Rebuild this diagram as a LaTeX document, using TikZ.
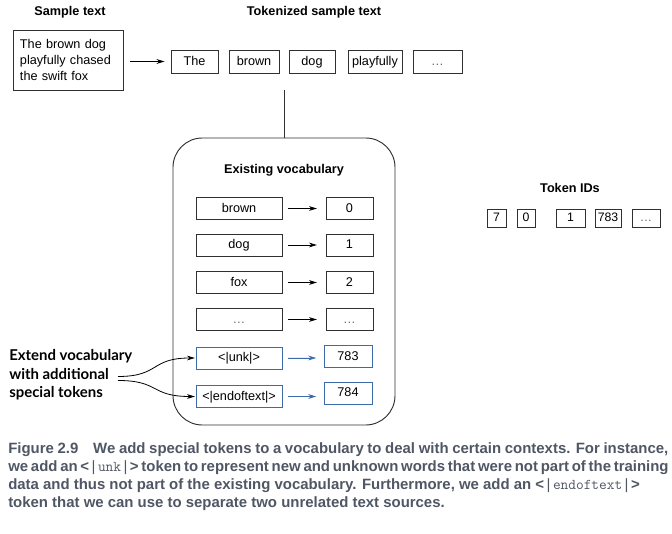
\documentclass[tikz,border=0pt]{standalone}
\usepackage{fontspec}
\setmainfont{Liberation Sans}
\newfontfamily\capfont{Liberation Sans}
\newfontfamily\notefont{Lato}
\usetikzlibrary{arrows.meta}
\definecolor{specblue}{HTML}{3D6BA8}
\definecolor{capgray}{HTML}{4F5664}
\definecolor{linegray}{HTML}{303030}
% thin bracket bars around special token names in the caption
\newcommand{\tokbar}{{\mdseries\,|\,}}

\begin{document}
\begin{tikzpicture}[x=0.75pt,y=-0.75pt,
  txt/.style={font=\fontsize{9.5}{12}\selectfont},
  head/.style={font=\bfseries\fontsize{9.5}{12}\selectfont, inner sep=0pt},
  box/.style={txt, draw=linegray, line width=0.7pt, inner sep=0pt,
    text height=7.3pt, text depth=1.3pt},
  tokbox/.style={box, minimum height=17.25pt},
  vbox/.style={box, minimum height=16.5pt},
  idbox/.style={box, minimum height=13.5pt, font=\fontsize{9.2}{11}\selectfont},
  spec/.style={vbox, draw=specblue},
  arr/.style={-{Stealth[length=6pt,width=3.6pt]}, line width=0.6pt, draw=black},
  specarr/.style={arr, draw=specblue, fill=specblue},
  capline/.style={anchor=base west, inner sep=0pt, text=capgray,
    font=\capfont\bfseries\fontsize{11.2}{13}\selectfont}]

\useasboundingbox (0,0) rectangle (672,534);

% headings
\node[head] (hsample) at (70,12) {Sample text};
\node[head] (htok) at (314,12) {Tokenized sample text};

% sample sentence
\node[draw=linegray, line width=0.7pt, txt, minimum width=82.5pt, minimum height=45pt,
      text width=72pt, inner xsep=5.25pt, align=left, anchor=center] (sample) at (68,60)
  {The brown dog\\playfully chased\\the swift fox};

% tokens
\node[tokbox, minimum width=35.25pt] (tThe) at (194.5,61.5) {The};
\node[tokbox, minimum width=37.5pt]  (tbrown) at (254,61.5) {brown};
\node[tokbox, minimum width=34.5pt]  (tdog) at (312,61.5) {dog};
\node[tokbox, minimum width=40.5pt]  (tplay) at (375,61.5) {playfully};
\node[tokbox, minimum width=36.75pt] (tdots) at (437.5,61.5) {\textcolor{black!60}{…}};

\draw[arr, shorten <=5.25pt, shorten >=4.5pt] (sample.east |- tThe.west) -- (tThe.west);

% vocabulary panel
\node[draw=linegray, line width=0.7pt, rounded corners=22pt,
      minimum width=166.5pt, minimum height=215.25pt] (vocab) at (284,281.5) {};
\coordinate (tokbase) at (284,90);
\draw[line width=0.7pt, draw=linegray] (tokbase) -- (vocab.north);
\node[head] (hvocab) at (284,170) {Existing vocabulary};

\node[vbox, minimum width=64.5pt] (vbrown) at (239,208.5) {brown};
\node[vbox, minimum width=64.5pt] (vdog)   at (239,245) {dog};
\node[vbox, minimum width=64.5pt] (vfox)   at (239,282.5) {fox};
\node[vbox, minimum width=64.5pt] (vdots)  at (239,319.5) {\textcolor{black!60}{…}};
\node[spec, minimum width=64.5pt] (vunk)   at (239,358) {<|unk|>};
\node[spec, minimum width=64.5pt] (veot)   at (239,396.5) {<|endoftext|>};

\node[vbox, minimum width=35.25pt] (i0) at (349.5,208.5) {0};
\node[vbox, minimum width=35.25pt] (i1) at (349.5,245) {1};
\node[vbox, minimum width=35.25pt] (i2) at (349.5,282.5) {2};
\node[vbox, minimum width=35.25pt] (id) at (349.5,319.5) {\textcolor{black!60}{…}};
\node[spec, minimum width=36pt] (i783) at (348,356.5) {783};
\node[spec, minimum width=36pt] (i784) at (348,393) {784};

\foreach \a/\b in {vbrown/i0, vdog/i1, vfox/i2, vdots/id}
  \draw[arr, shorten <=4.5pt, shorten >=6.5pt] (\a.east) -- (\a.east -| \b.west);
\draw[specarr, shorten <=4.5pt, shorten >=5.5pt] (vunk.east) -- (vunk.east -| i783.west);
\draw[specarr, shorten <=4.5pt, shorten >=5.5pt] (veot.east) -- (veot.east -| i784.west);

% token ids
\node[head] (hids) at (570,188) {Token IDs};
\node[idbox, minimum width=14.25pt] (n7) at (496.5,218) {7};
\node[idbox, minimum width=13.5pt]  (n0) at (526,218) {0};
\node[idbox, minimum width=21.75pt] (n1) at (570.5,218) {1};
\node[idbox, minimum width=19.5pt]  (n783) at (608,218) {783};
\node[idbox, minimum width=21pt]    (ndots) at (646,218) {\textcolor{black!60}{…}};

% note on special tokens
\node[anchor=west, align=left, inner sep=0pt,
      font=\notefont\bfseries\fontsize{11.2}{13.9}\selectfont] (note) at (9,375)
  {Extend vocabulary\\with additional\\special tokens};
\coordinate (ext1) at (118,376.5);
\coordinate (ext2) at (118,380.5);
\draw[arr, shorten >=0.5pt] (ext1) .. controls (160,376.5) and (150,358) .. (vunk.west);
\draw[arr, shorten >=0.5pt] (ext2) .. controls (160,380.5) and (150,396.5) .. (veot.west);

% caption
\node[capline] (cap1) at (8,454) {\makebox[495pt][s]{Figure 2.9\quad We add special tokens to a vocabulary to deal with certain contexts. For instance,}};
\node[capline] (cap2) at (8,472) {\makebox[495pt][s]{we add an <\tokbar{\normalfont\ttfamily unk}\tokbar> token to represent new and unknown words that were not part of the training}};
\node[capline] (cap3) at (8,490) {data and thus not part of the existing vocabulary. Furthermore, we add an <\tokbar{\normalfont\ttfamily endoftext}\tokbar>};
\node[capline] (cap4) at (8,508) {token that we can use to separate two unrelated text sources.};
\end{tikzpicture}
\end{document}
